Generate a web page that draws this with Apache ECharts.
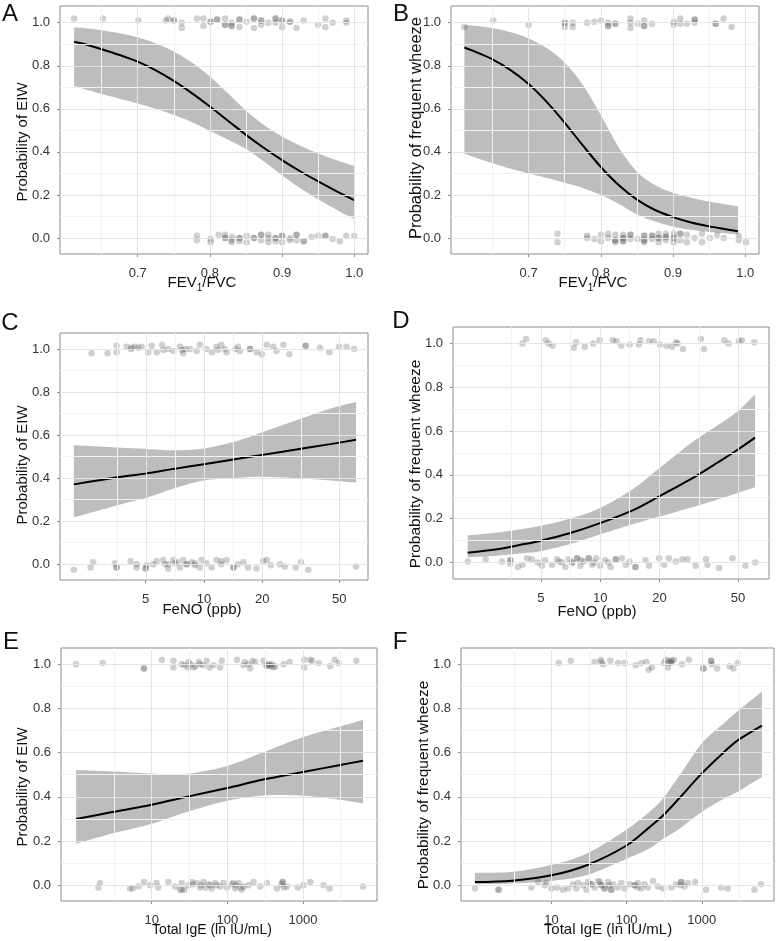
<!DOCTYPE html>
<html><head><meta charset="utf-8">
<script src="https://cdn.jsdelivr.net/npm/echarts@6/dist/echarts.min.js"></script>
<style>html,body{margin:0;padding:0;background:#fff}#c{width:784px;height:941px}</style>
</head><body><div id="c"></div>
<script>
// ---------- tick labels ----------
const yTickValues = [0, 0.2, 0.4, 0.6, 0.8, 1.0];
const yMinorValues = [0.1, 0.3, 0.5, 0.7, 0.9];
const fevTickValues = [0.7, 0.8, 0.9, 1.0];
const fevMinorValues = [0.65, 0.75, 0.85, 0.95];
const fenoTickValues = [5, 10, 20, 50];
const igeTickValues = [10, 100, 1000];

// ---------- Panel A: EIW vs FEV1/FVC ----------
const aCurveX = [0.612, 0.625, 0.65, 0.675, 0.70, 0.725, 0.75, 0.775, 0.80, 0.825, 0.85, 0.875, 0.90, 0.925, 0.95, 0.975, 1.0];
const aFit    = [0.912, 0.902, 0.877, 0.850, 0.819, 0.779, 0.730, 0.673, 0.611, 0.545, 0.479, 0.418, 0.362, 0.310, 0.263, 0.218, 0.176];
const aUpper  = [0.978, 0.975, 0.965, 0.951, 0.932, 0.904, 0.866, 0.815, 0.750, 0.672, 0.592, 0.525, 0.472, 0.429, 0.393, 0.362, 0.334];
const aLower  = [0.706, 0.693, 0.669, 0.647, 0.625, 0.600, 0.572, 0.538, 0.498, 0.457, 0.413, 0.355, 0.291, 0.232, 0.180, 0.132, 0.088];
const aPoints = [
 [0.612,1.02],[0.652,1.02],[0.701,1.01],[0.739,1.01],[0.742,1.02],[0.75,1.01],[0.761,1.0],[0.761,0.975],[0.782,1.02],[0.791,0.985],[0.791,1.02],[0.801,1.005],[0.81,1.015],[0.821,1.02],[0.821,0.99],[0.83,1.0],[0.83,0.985],[0.841,1.015],[0.841,0.98],[0.851,1.005],[0.861,1.02],[0.861,0.975],[0.871,1.01],[0.871,0.99],[0.881,1.0],[0.891,1.02],[0.891,1.0],[0.9,1.01],[0.9,0.98],[0.911,1.005],[0.92,0.975],[0.93,1.01],[0.95,0.99],[0.96,1.02],[0.96,0.98],[0.97,1.0],[0.989,1.01],[0.989,1.0],
 [0.81,1.015],[0.821,0.99],[0.861,1.02],[0.891,1.02],[0.911,1.005],[0.83,0.985],[0.75,1.01],[0.801,1.005],[0.871,1.01],[0.9,1.01],[0.841,1.015],
 [0.782,0.01],[0.782,-0.01],[0.801,-0.005],[0.801,-0.02],[0.812,0.015],[0.821,0.015],[0.821,0.0],[0.83,-0.01],[0.83,-0.02],[0.841,0.0],[0.841,-0.015],[0.851,-0.02],[0.861,0.0],[0.871,0.015],[0.871,-0.01],[0.881,0.015],[0.881,-0.02],[0.891,0.0],[0.891,-0.015],[0.9,0.01],[0.9,-0.02],[0.911,0.0],[0.92,0.015],[0.92,-0.01],[0.93,-0.015],[0.941,0.005],[0.95,0.01],[0.96,0.01],[0.97,-0.005],[0.98,-0.015],[0.989,0.01],[1.0,0.01],
 [0.841,0.0],[0.861,0.0],[0.871,0.015],[0.891,0.0],[0.9,0.01],[0.92,0.015],[0.93,-0.015],[0.821,0.0],[0.831,0.005],[0.851,0.01],[0.881,0.0],[0.911,-0.01],[0.96,0.01]
];

// ---------- Panel B: frequent wheeze vs FEV1/FVC ----------
const bCurveX = [0.611, 0.625, 0.65, 0.675, 0.70, 0.725, 0.75, 0.775, 0.80, 0.825, 0.85, 0.875, 0.90, 0.925, 0.95, 0.975, 0.99];
const bFit    = [0.885, 0.867, 0.830, 0.780, 0.715, 0.632, 0.535, 0.430, 0.330, 0.245, 0.178, 0.130, 0.097, 0.072, 0.054, 0.040, 0.031];
const bUpper  = [0.989, 0.986, 0.975, 0.956, 0.927, 0.882, 0.815, 0.712, 0.571, 0.420, 0.308, 0.246, 0.210, 0.187, 0.169, 0.155, 0.146];
const bLower  = [0.393, 0.375, 0.347, 0.322, 0.300, 0.279, 0.257, 0.232, 0.200, 0.158, 0.110, 0.077, 0.053, 0.038, 0.028, 0.021, 0.017];
const bPoints = [
 [0.611,0.98],[0.651,1.01],[0.7,0.99],[0.75,1.0],[0.75,0.98],[0.761,1.0],[0.761,0.98],[0.781,1.0],[0.791,1.005],[0.8,1.01],[0.81,1.0],[0.81,0.985],[0.82,0.995],[0.841,1.02],[0.841,1.0],[0.841,0.975],[0.851,0.995],[0.86,1.01],[0.86,0.985],[0.871,0.995],[0.901,1.005],[0.901,0.99],[0.91,1.02],[0.91,0.995],[0.919,0.995],[0.93,1.015],[0.93,1.0],[0.959,0.995],[0.97,1.02],[0.981,0.98],
 [0.959,0.995],[0.93,1.015],[0.75,1.0],[0.82,0.995],[0.81,0.985],[0.86,0.985],
 [0.74,0.02],[0.74,-0.02],[0.781,0.01],[0.781,0.0],[0.791,-0.005],[0.8,0.015],[0.8,-0.015],[0.81,0.02],[0.81,0.0],[0.82,0.015],[0.82,-0.01],[0.82,-0.02],[0.831,0.015],[0.831,0.0],[0.831,-0.015],[0.841,0.015],[0.841,-0.005],[0.851,-0.005],[0.86,0.01],[0.86,-0.01],[0.86,-0.02],[0.871,0.01],[0.871,-0.005],[0.88,0.02],[0.88,0.0],[0.88,-0.02],[0.89,0.02],[0.89,0.005],[0.89,-0.01],[0.901,0.02],[0.901,0.0],[0.901,-0.02],[0.91,0.02],[0.91,-0.01],[0.919,0.015],[0.919,-0.02],[0.93,0.0],[0.94,0.02],[0.94,-0.02],[0.951,0.0],[0.961,0.015],[0.97,0.0],[0.991,0.01],[0.991,-0.01],[1.001,-0.02],
 [0.831,0.0],[0.86,-0.01],[0.88,0.0],[0.89,0.005],[0.901,0.0],[0.82,-0.01],[0.841,0.015],[0.871,0.01],[0.91,0.02],[0.831,-0.015],[0.86,0.01]
];

// ---------- Panel C: EIW vs FeNO ----------
const cCurveX = [2.13, 3, 4, 5, 7, 10, 15, 20, 30, 45, 61];
const cFit    = [0.371, 0.393, 0.410, 0.421, 0.443, 0.465, 0.490, 0.508, 0.533, 0.558, 0.578];
const cUpper  = [0.553, 0.546, 0.540, 0.536, 0.529, 0.538, 0.574, 0.613, 0.669, 0.723, 0.754];
const cLower  = [0.218, 0.255, 0.286, 0.308, 0.352, 0.389, 0.402, 0.406, 0.400, 0.389, 0.379];
const cPoints = [
 [2.63,0.98],[3.18,0.98],[3.54,0.985],[3.54,1.015],[3.99,1.01],[4.24,1.005],[4.58,1.005],[4.77,1.01],[5.16,0.985],[5.37,1.015],[5.70,0.985],[6.09,1.02],[6.17,0.995],[6.54,1.0],[6.95,0.99],[7.52,1.01],[7.82,0.98],[8.47,1.0],[9.17,0.99],[9.53,1.02],[10.3,1.0],[11.0,0.985],[11.6,1.01],[12.3,1.02],[13.1,0.985],[15.0,1.01],[15.3,0.99],[17.3,1.0],[17.3,1.0],[18.7,0.985],[19.9,0.975],[21.1,1.02],[22.8,1.01],[23.7,0.99],[25.7,1.02],[27.6,0.975],[33.5,1.015],[33.5,1.015],[39.7,1.005],[44.4,0.985],[49.8,1.01],[54.5,1.01],[59.7,1.0],
 [4.2,1.0],[7.7,0.995],[11.8,0.995],[12.8,1.0],[14.5,1.0],[4.4,1.01],[8.0,1.0],
 [2.13,-0.025],[2.60,-0.015],[2.68,0.01],[3.47,0.005],[3.54,-0.015],[4.18,0.015],[4.49,0.0],[4.49,-0.015],[5.0,-0.02],[5.06,-0.005],[5.47,0.0],[5.70,0.015],[6.17,0.02],[6.29,0.0],[6.54,-0.02],[6.95,0.02],[7.08,0.005],[7.52,-0.015],[7.82,0.02],[8.13,0.0],[8.63,0.01],[8.99,-0.005],[9.53,-0.015],[9.73,0.02],[10.3,0.005],[10.95,-0.015],[11.6,0.02],[12.3,0.0],[13.1,0.02],[14.2,-0.015],[15.0,0.0],[16.0,0.01],[16.9,-0.015],[18.7,-0.02],[20.2,0.015],[21.1,0.02],[22.1,-0.005],[24.7,0.0],[26.2,-0.01],[29.8,-0.015],[31.7,0.01],[34.6,-0.025],[61.0,-0.01],
 [5.0,-0.02],[6.54,0.0],[8.13,0.0],[14.2,-0.015],[12.3,0.015],[3.54,-0.015],[7.3,0.01],[9.0,0.005]
];

// ---------- Panel D: frequent wheeze vs FeNO ----------
const dCurveX = [2.13, 3, 4, 5, 7, 10, 15, 20, 30, 40, 50, 61];
const dFit    = [0.045, 0.061, 0.082, 0.100, 0.134, 0.180, 0.243, 0.303, 0.390, 0.460, 0.516, 0.570];
const dUpper  = [0.124, 0.137, 0.153, 0.168, 0.200, 0.249, 0.342, 0.432, 0.556, 0.630, 0.692, 0.768];
const dLower  = [0.024, 0.031, 0.042, 0.052, 0.084, 0.128, 0.178, 0.210, 0.255, 0.290, 0.318, 0.344];
const dPoints = [
 [4.04,1.0],[4.21,1.02],[5.31,1.015],[5.48,1.0],[5.74,0.99],[7.35,0.98],[7.55,1.005],[8.36,0.985],[9.21,1.0],[9.92,1.015],[11.6,1.015],[12.1,1.01],[12.8,0.99],[14.1,0.995],[15.7,0.995],[16.0,1.015],[17.7,1.01],[18.7,1.01],[20.1,0.995],[21.7,0.99],[23.1,0.985],[24.2,1.005],[24.7,1.0],[26.3,0.975],[32.4,1.02],[33.6,0.975],[42.6,1.015],[44.8,1.0],[50.7,1.01],[52.3,1.015],[60.4,1.005],
 [2.13,0.005],[2.63,0.015],[3.18,0.005],[3.50,0.01],[3.50,-0.005],[3.83,-0.02],[4.04,-0.01],[4.26,0.02],[4.51,0.015],[4.82,0.0],[5.07,-0.015],[5.27,0.01],[5.70,-0.01],[6.04,0.015],[6.41,0.0],[6.67,-0.02],[6.93,0.015],[7.21,0.0],[7.64,0.02],[7.94,-0.015],[8.26,0.005],[8.76,0.02],[9.11,-0.01],[9.55,0.02],[10.0,-0.015],[10.6,0.01],[11.3,-0.02],[12.0,0.015],[12.9,0.02],[13.5,-0.01],[14.1,0.005],[15.1,-0.02],[17.0,0.01],[17.7,-0.015],[19.9,0.02],[21.1,-0.01],[22.3,0.02],[24.2,0.005],[26.1,0.015],[27.7,0.015],[30.5,-0.015],[34.4,0.015],[35.0,-0.01],[40.1,-0.025],[46.9,0.02],[54.5,-0.015],[61.1,0.0],
 [3.50,0.01],[7.64,0.02],[7.21,0.0],[8.76,0.02],[12.0,0.015],[15.1,-0.02],[6.2,0.005],[8.0,0.01],[9.3,0.0],[11.0,0.0]
];

// ---------- Panel E: EIW vs total IgE ----------
const eCurveX = [1, 3, 10, 30, 100, 300, 1000, 3000, 6240];
const eFit    = [0.300, 0.331, 0.364, 0.401, 0.440, 0.478, 0.512, 0.543, 0.563];
const eUpper  = [0.521, 0.515, 0.505, 0.505, 0.540, 0.602, 0.670, 0.717, 0.748];
const eLower  = [0.188, 0.234, 0.278, 0.333, 0.382, 0.406, 0.405, 0.387, 0.370];
const ePoints = [
 [1.0,1.0],[2.24,1.005],[7.9,0.98],[7.9,0.98],[13.6,1.02],[19.4,1.015],[19.4,0.985],[24.9,1.0],[30.6,1.01],[35.6,0.985],[43.7,1.0],[53.5,1.015],[65.6,0.995],[80.4,0.985],[84.6,1.015],[134,1.02],[164,0.995],[201,0.98],[234,1.01],[301,1.015],[334,0.99],[388,1.0],[430,0.99],[555,1.0],[666,1.01],[1041,1.02],[1041,0.985],[1316,1.015],[1613,1.005],[2303,0.99],[2626,1.02],[2966,1.005],[5083,1.015],
 [27,0.995],[33,1.0],[38,0.99],[48,0.995],[58,0.985],[170,1.01],[190,1.0],[215,1.015],[350,1.0],[365,0.995],[410,0.985],[1250,1.02],[30,0.985],[42,1.01],[330,0.995],[380,0.99],
 [1.97,-0.01],[2.07,0.01],[5.17,-0.015],[5.60,-0.015],[6.66,-0.005],[7.91,0.015],[9.50,0.0],[11.6,0.01],[12.2,-0.01],[16.6,0.015],[20.4,-0.005],[23.7,-0.02],[24.9,0.01],[30.6,0.0],[33.9,0.015],[39.5,0.01],[43.7,-0.01],[48.3,0.015],[56.3,0.005],[62.4,-0.015],[69.0,0.01],[80.4,-0.005],[89.0,0.01],[98.5,-0.01],[115,0.005],[127,-0.015],[141,0.01],[156,-0.02],[191,0.0],[222,0.015],[272,-0.005],[334,0.01],[452,-0.015],[543,0.015],[614,-0.005],[859,-0.01],[1021,0.0],[1250,0.015],[1878,0.0],[2255,-0.015],[6237,-0.005],
 [27,-0.02],[45,0.0],[60,0.0],[130,0.0],[150,-0.01],[520,0.005],[560,-0.01],[25,-0.02],[35,0.005],[52,-0.01],[72,0.0],[120,0.01],[165,-0.005],[540,0.015]
];

// ---------- Panel F: frequent wheeze vs total IgE ----------
const fCurveX = [0.96, 3, 10, 30, 100, 200, 300, 500, 1000, 2000, 3000, 6310];
const fFit    = [0.015, 0.021, 0.045, 0.092, 0.180, 0.262, 0.313, 0.393, 0.506, 0.604, 0.655, 0.722];
const fUpper  = [0.056, 0.061, 0.092, 0.145, 0.252, 0.332, 0.390, 0.495, 0.642, 0.735, 0.788, 0.876];
const fLower  = [0.005, 0.008, 0.020, 0.047, 0.120, 0.166, 0.208, 0.255, 0.332, 0.393, 0.423, 0.491];
const fPoints = [
 [12.5,1.005],[18.1,1.015],[37.6,1.01],[45.2,1.02],[48.5,1.0],[60.7,1.015],[76.7,1.005],[94.0,1.005],[132,0.995],[157,1.005],[183,1.01],[196,0.975],[217,0.985],[313,1.005],[336,1.02],[354,0.985],[400,1.015],[425,1.02],[543,1.0],[672,1.02],[1052,0.98],[1052,0.98],[1330,1.015],[1358,1.0],[1599,0.98],[2330,0.99],[2630,0.98],[3005,1.005],
 [46,1.01],[380,1.005],[365,1.015],[1330,1.015],[390,1.01],
 [0.96,-0.015],[1.96,-0.02],[2.00,-0.02],[5.43,-0.01],[6.66,0.015],[8.16,0.0],[8.59,0.01],[10.0,-0.015],[11.9,-0.01],[14.3,-0.02],[16.6,-0.015],[19.4,0.005],[21.5,-0.015],[22.6,0.01],[26.3,0.0],[29.2,-0.02],[30.7,0.015],[34.0,0.005],[37.6,-0.01],[41.6,0.02],[46.1,0.0],[51.0,-0.015],[56.5,0.015],[62.5,-0.02],[65.9,0.005],[76.7,-0.01],[84.9,0.01],[94.0,-0.015],[110,0.005],[128,0.0],[141,0.01],[157,-0.015],[173,0.005],[192,-0.01],[224,0.02],[261,-0.005],[304,-0.015],[392,-0.01],[456,0.005],[532,0.015],[589,-0.005],[652,0.01],[816,0.015],[1143,-0.02],[1808,-0.01],[2213,-0.015],[5000,-0.02],[6137,0.005],
 [34.0,0.005],[46.1,0.0],[62.5,-0.02],[128,0.0],[532,0.015],[51.0,-0.015],[44,0.015],[58,0.0],[140,-0.01],[520,0.0]
];

// ---------- build ----------
const FONT = "'Liberation Sans', Arial, Helvetica, sans-serif";
const lg = v => Math.log10(v);
const id = v => v;
const fmt1 = v => (Math.round(v * 10) / 10).toFixed(1);
const fmtPow = v => String(Math.round(Math.pow(10, v)));
function logMinor(ticks) {
  const t = ticks.map(lg); const out = [t[0] - (t[1] - t[0]) / 2];
  for (let i = 0; i < t.length - 1; i++) out.push((t[i] + t[i + 1]) / 2);
  out.push(t[t.length - 1] + (t[t.length - 1] - t[t.length - 2]) / 2);
  return out;
}
// smooth (Catmull-Rom) drawing of a boundary through projected pixel points
function smoothPixels(P) {
  const out = [], n = P.length, S = 10;
  for (let i = 0; i < n - 1; i++) {
    const p0 = P[Math.max(i - 1, 0)], p1 = P[i], p2 = P[i + 1], p3 = P[Math.min(i + 2, n - 1)];
    const c1 = [p1[0] + (p2[0] - p0[0]) / 6, p1[1] + (p2[1] - p0[1]) / 6];
    const c2 = [p2[0] - (p3[0] - p1[0]) / 6, p2[1] - (p3[1] - p1[1]) / 6];
    for (let s = 0; s < S; s++) {
      const t = s / S, u = 1 - t;
      out.push([u*u*u*p1[0] + 3*u*u*t*c1[0] + 3*u*t*t*c2[0] + t*t*t*p2[0],
                u*u*u*p1[1] + 3*u*u*t*c1[1] + 3*u*t*t*c2[1] + t*t*t*p2[1]]);
    }
  }
  out.push(P[n - 1]);
  return out;
}

const panels = [
  { grid: {left: 60, top: 6, width: 308, height: 248}, xMin: 0.5924, xMax: 1.019, yMin: -0.0743, yMax: 1.0776,
    tx: id, ticks: fevTickValues, minor: fevMinorValues, fmt: fmt1,
    cx: aCurveX, fit: aFit, up: aUpper, lo: aLower, pts: aPoints },
  { grid: {left: 451, top: 6, width: 308, height: 248}, xMin: 0.5925, xMax: 1.019, yMin: -0.0743, yMax: 1.0776,
    tx: id, ticks: fevTickValues, minor: fevMinorValues, fmt: fmt1,
    cx: bCurveX, fit: bFit, up: bUpper, lo: bLower, pts: bPoints },
  { grid: {left: 60, top: 333, width: 308, height: 247}, xMin: 0.257, xMax: 1.847, yMin: -0.073, yMax: 1.074,
    tx: lg, ticks: fenoTickValues, minor: logMinor(fenoTickValues), fmt: fmtPow,
    cx: cCurveX, fit: cFit, up: cUpper, lo: cLower, pts: cPoints },
  { grid: {left: 453, top: 327, width: 316, height: 252}, xMin: 0.254, xMax: 1.856, yMin: -0.075, yMax: 1.075,
    tx: lg, ticks: fenoTickValues, minor: logMinor(fenoTickValues), fmt: fmtPow,
    cx: dCurveX, fit: dFit, up: dUpper, lo: dLower, pts: dPoints },
  { grid: {left: 61, top: 648, width: 316, height: 253}, xMin: -0.2, xMax: 3.98, yMin: -0.071, yMax: 1.073,
    tx: lg, ticks: igeTickValues, minor: logMinor(igeTickValues), fmt: fmtPow,
    cx: eCurveX, fit: eFit, up: eUpper, lo: eLower, pts: ePoints },
  { grid: {left: 461, top: 648, width: 313, height: 253}, xMin: -0.203, xMax: 3.96, yMin: -0.071, yMax: 1.073,
    tx: lg, ticks: igeTickValues, minor: logMinor(igeTickValues), fmt: fmtPow,
    cx: fCurveX, fit: fFit, up: fUpper, lo: fLower, pts: fPoints }
];

const grids = [], xAxes = [], yAxes = [], series = [];
panels.forEach((p, i) => {
  grids.push(Object.assign({show: true, borderColor: '#8c8c8c', borderWidth: 1, backgroundColor: '#fff', containLabel: false}, p.grid));
  const xt = p.ticks.map(p.tx);
  xAxes.push({gridIndex: i, type: 'value', min: p.xMin, max: p.xMax,
    axisLine: {show: false, onZero: false}, splitLine: {show: false},
    axisTick: {show: true, length: 3, customValues: xt, lineStyle: {color: '#8c8c8c'}},
    axisLabel: {customValues: xt, margin: 13, fontSize: 13, color: '#333', fontFamily: FONT, formatter: p.fmt}});
  yAxes.push({gridIndex: i, type: 'value', min: p.yMin, max: p.yMax,
    axisLine: {show: false, onZero: false}, splitLine: {show: false},
    axisTick: {show: true, length: 3, customValues: yTickValues, lineStyle: {color: '#8c8c8c'}},
    axisLabel: {customValues: yTickValues, margin: 10, fontSize: 13, color: '#333', fontFamily: FONT, formatter: fmt1}});
  const ml = [];
  p.minor.forEach(v => { if (v > p.xMin && v < p.xMax) ml.push({xAxis: v, lineStyle: {color: '#f2f2f2', width: 1, type: 'solid'}}); });
  yMinorValues.forEach(v => ml.push({yAxis: v, lineStyle: {color: '#f2f2f2', width: 1, type: 'solid'}}));
  xt.forEach(v => ml.push({xAxis: v, lineStyle: {color: '#e4e4e4', width: 1, type: 'solid'}}));
  yTickValues.forEach(v => ml.push({yAxis: v, lineStyle: {color: '#e4e4e4', width: 1, type: 'solid'}}));
  series.push({type: 'line', xAxisIndex: i, yAxisIndex: i, data: [], silent: true, z: 1,
    markLine: {silent: true, symbol: ['none', 'none'], label: {show: false}, animation: false, data: ml}});
  const cx = p.cx, up = p.up, lo = p.lo, tx = p.tx;
  series.push({type: 'custom', xAxisIndex: i, yAxisIndex: i, z: 2, silent: true,
    data: cx.map((x, k) => [tx(x), lo[k], up[k]]), encode: {x: 0, y: [1, 2]},
    renderItem: (params, api) => {
      if (params.dataIndex !== 0) return null;
      const U = [], L = [];
      for (let k = 0; k < cx.length; k++) { U.push(api.coord([tx(cx[k]), up[k]])); L.push(api.coord([tx(cx[k]), lo[k]])); }
      const pts = smoothPixels(U).concat(smoothPixels(L.reverse()));
      return {type: 'polygon', shape: {points: pts}, style: {fill: '#bdbdbd'}};
    }});
  series.push({type: 'scatter', xAxisIndex: i, yAxisIndex: i, z: 3, silent: true, symbolSize: 6.5,
    itemStyle: {color: 'rgba(60,60,60,0.3)'}, data: p.pts.map(d => [tx(d[0]), d[1]])});
  series.push({type: 'line', xAxisIndex: i, yAxisIndex: i, z: 4, silent: true, showSymbol: false, smooth: 0.33,
    lineStyle: {color: '#000', width: 2}, data: cx.map((x, k) => [tx(x), p.fit[k]])});
});

function txt(x, y, text, size, extra) {
  return Object.assign({type: 'text', x: x, y: y, silent: true,
    style: {text: text, fontSize: size, fontFamily: FONT, fill: '#111', align: 'center', verticalAlign: 'middle'}}, extra || {});
}
const R = Math.PI / 2;
const fevRich = {s: {fontSize: 10, lineHeight: 10, verticalAlign: 'bottom', fontFamily: FONT, fill: '#111'}};
const graphics = [
  txt(10, 14, 'A', 24), txt(401, 14, 'B', 24), txt(10, 323, 'C', 24), txt(401, 321, 'D', 24), txt(11, 642, 'E', 24), txt(400, 642, 'F', 24),
  {type: 'text', x: 202, y: 283, silent: true, style: {text: 'FEV{s|1}/FVC', fontSize: 15, lineHeight: 20, fontFamily: FONT, fill: '#111', align: 'center', verticalAlign: 'middle', rich: fevRich}},
  {type: 'text', x: 593, y: 283, silent: true, style: {text: 'FEV{s|1}/FVC', fontSize: 15, lineHeight: 20, fontFamily: FONT, fill: '#111', align: 'center', verticalAlign: 'middle', rich: fevRich}},
  txt(202, 610, 'FeNO (ppb)', 15), txt(597, 612, 'FeNO (ppb)', 15),
  txt(212, 930, 'Total IgE (ln IU/mL)', 14), txt(608, 930, 'Total IgE (ln IU/mL)', 15),
  txt(23, 142, 'Probability of EIW', 15, {rotation: R}),
  txt(416, 128, 'Probability of frequent wheeze', 16.5, {rotation: R}),
  txt(23, 465, 'Probability of EIW', 15, {rotation: R}),
  txt(416, 464, 'Probability of frequent wheeze', 15.5, {rotation: R}),
  txt(23, 787, 'Probability of EIW', 15, {rotation: R}),
  txt(424, 785, 'Probability of frequent wheeze', 15.5, {rotation: R})
];

const chart = echarts.init(document.getElementById('c'), null, {renderer: 'canvas'});
chart.setOption({animation: false, backgroundColor: '#fff', grid: grids, xAxis: xAxes, yAxis: yAxes, series: series, graphic: graphics});
</script></body></html>
